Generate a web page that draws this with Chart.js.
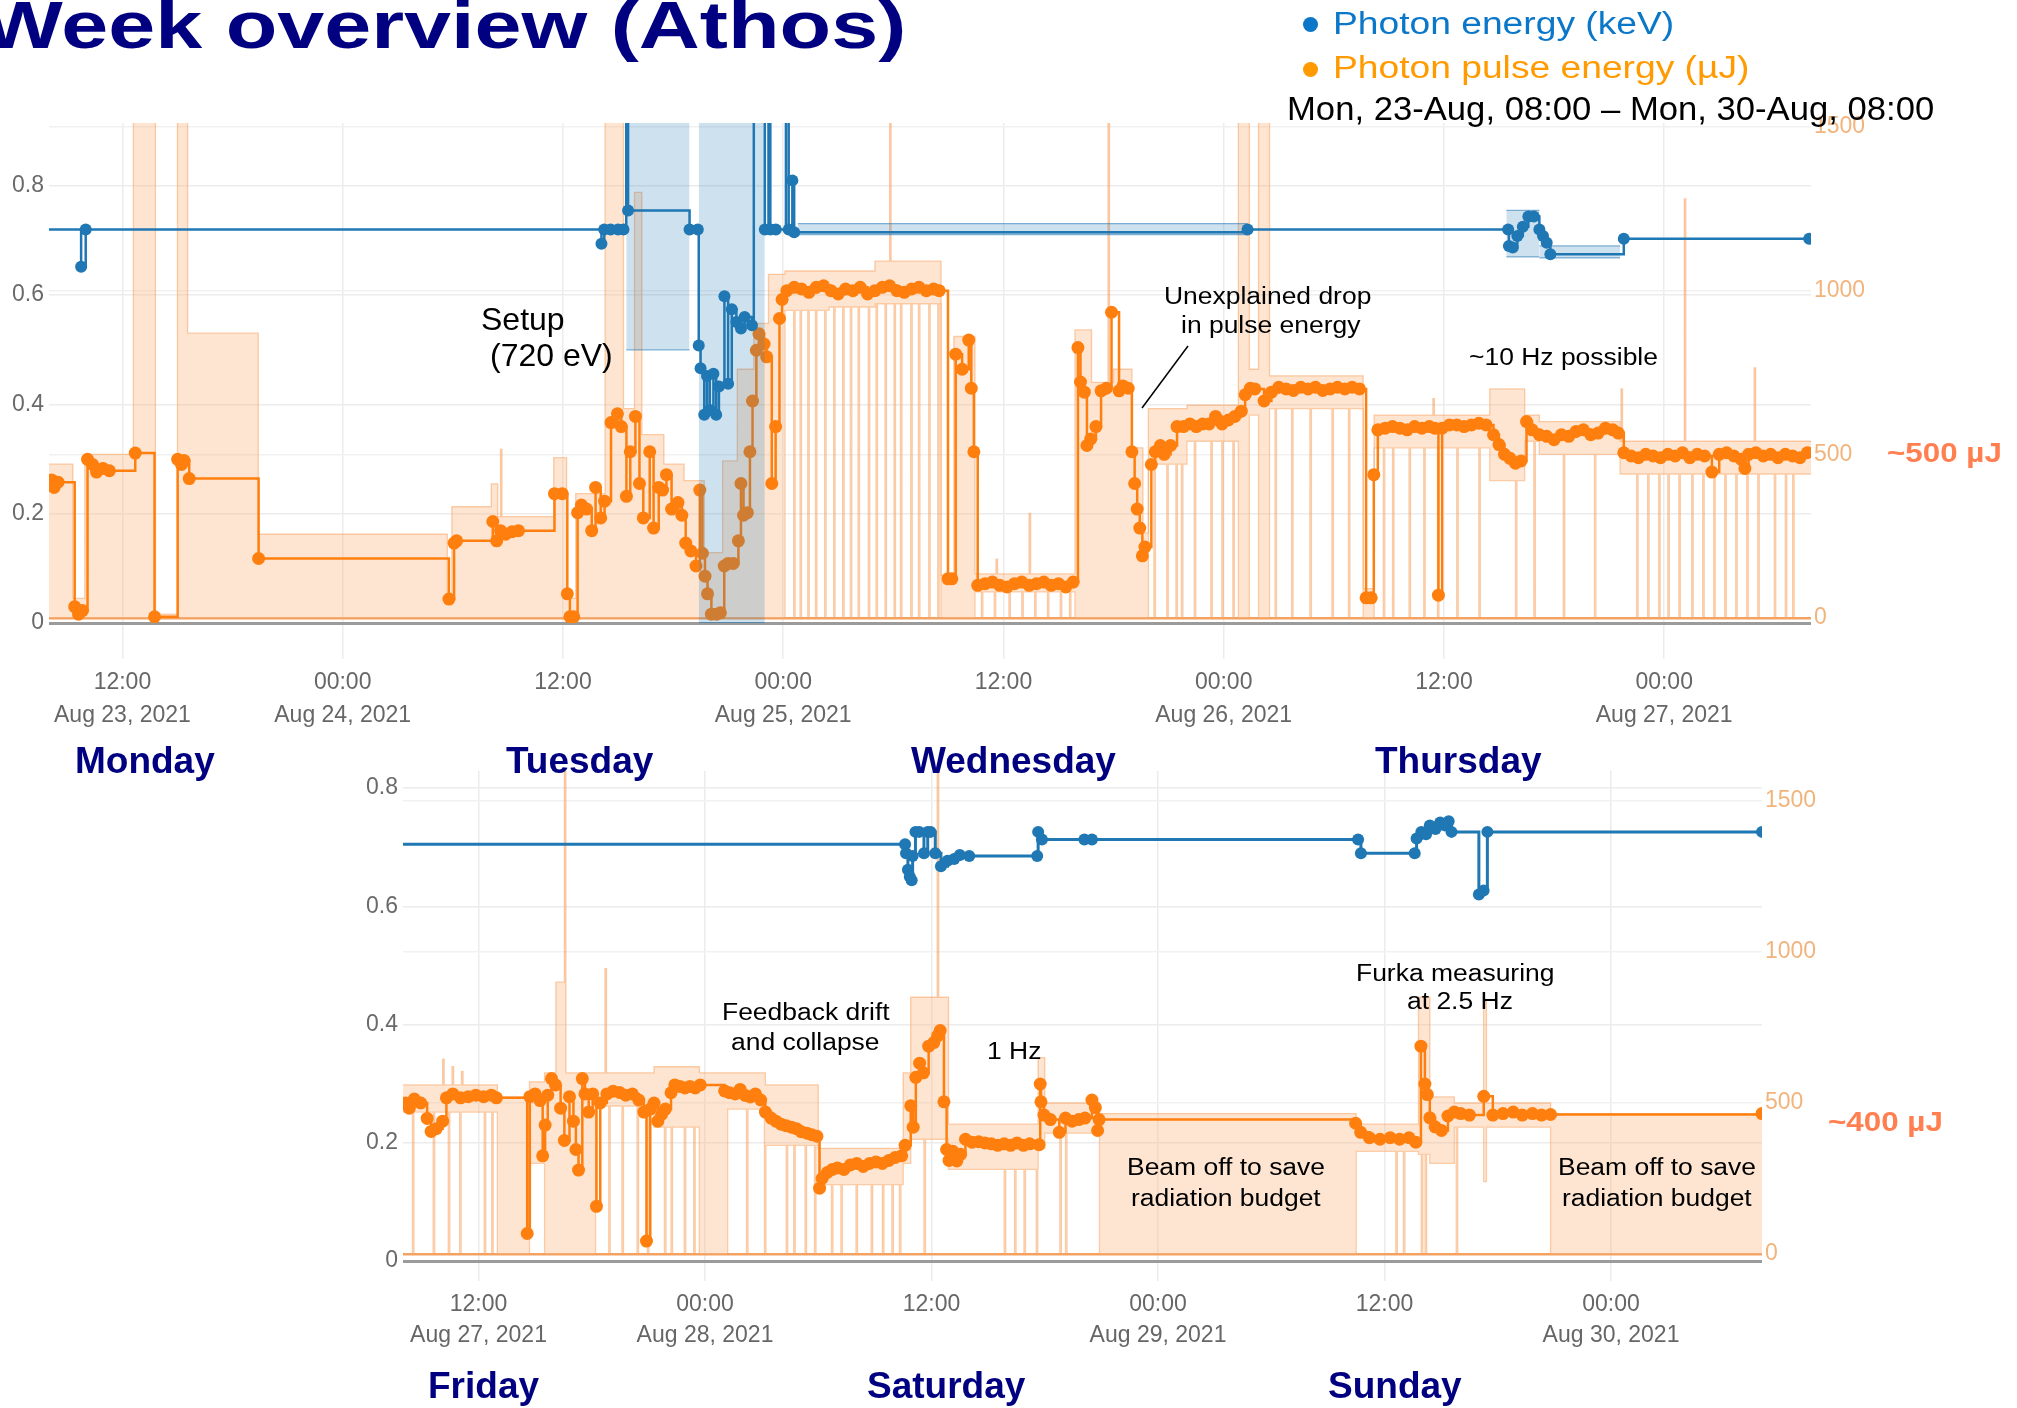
<!DOCTYPE html>
<html>
<head>
<meta charset="utf-8">
<script src="https://cdn.jsdelivr.net/npm/chart.js@4.4.1/dist/chart.umd.min.js"></script>
<style>
  body { margin: 0; width: 2017px; height: 1408px; background: #fff; position: relative; overflow: hidden;
         font-family: "Liberation Sans", Arial, Helvetica, sans-serif; }
  canvas { position: absolute; }
  .txt { position: absolute; white-space: nowrap; line-height: 1; transform-origin: 0 0; }
  .dot { position: absolute; border-radius: 50%; }
</style>
</head>
<body>
<canvas id="topChart" width="1900" height="640" style="left:0;top:100px;width:1900px;height:640px"></canvas>
<canvas id="bottomChart" width="1600" height="668" style="left:300px;top:740px;width:1600px;height:668px"></canvas>
<svg style="position:absolute;left:0;top:0" width="2017" height="1408">
  <line x1="1188" y1="346" x2="1142" y2="408" stroke="#000" stroke-width="1.5"/>
</svg>
<script>
// hours are counted from Mon 23-Aug 08:00

// ---- top chart (Mon 08:00 - Fri 08:00) ----
const topTickHours = [4, 16, 28, 40, 52, 64, 76, 88];
const topTickTimes = ['12:00', '00:00', '12:00', '00:00', '12:00', '00:00', '12:00', '00:00'];
const topTickDates = ['Aug 23, 2021', 'Aug 24, 2021', '', 'Aug 25, 2021', '', 'Aug 26, 2021', '', 'Aug 27, 2021'];

// photon energy (keV)
const topEnergyHours = [0, 1.75, 2.0, 30.1, 30.25, 30.6, 31.0, 31.3, 31.45, 31.55, 34.9, 35.35, 35.4, 35.5, 35.7,
  35.85, 36.0, 36.2, 36.35, 36.5, 36.8, 37.0, 37.2, 37.45, 37.7, 37.9, 38.3, 38.4, 39.0, 39.2,
  39.3, 39.6, 40.15, 40.3, 40.5, 40.6, 65.3, 79.5, 79.54, 79.75, 80.0, 80.3, 80.6, 80.9, 81.2,
  81.4, 81.6, 81.8, 85.8, 95.9];
const topEnergyValues = [0.72, 0.652, 0.72, 0.694, 0.72, 0.72, 0.72, 0.72, 0.95, 0.755, 0.72, 0.72, 0.508, 0.466, 0.381,
  0.452, 0.39, 0.456, 0.381, 0.433, 0.598, 0.438, 0.574, 0.551, 0.539, 0.56, 0.545, 0.95, 0.72, 0.95,
  0.72, 0.72, 0.95, 0.72, 0.81, 0.715, 0.72, 0.72, 0.69, 0.687, 0.708, 0.725, 0.744, 0.744, 0.72,
  0.708, 0.696, 0.675, 0.703, 0.703];
// photon energy min/max bands
const topEnergyBandStart = [31.45, 35.4, 40.8, 79.4, 81.2];
const topEnergyBandEnd = [34.9, 39.0, 65.3, 81.2, 85.6];
const topEnergyBandLow = [0.5, 0, 0.711, 0.67, 0.668];
const topEnergyBandHigh = [0.95, 0.95, 0.731, 0.755, 0.69];

// photon pulse energy (uJ)
const topPulseHours = [0.14, 0.28, 0.49, 1.40, 1.61, 1.82, 2.10, 2.38, 2.59, 2.94, 3.29, 4.70, 5.75, 7.01, 7.22, 7.36, 7.64,
  11.42, 21.79, 22.07, 22.21, 24.18, 24.39, 24.60, 24.88, 25.23, 25.58, 27.54, 27.96, 28.24, 28.38, 28.59,
  28.80, 29.01, 29.29, 29.57, 29.78, 30.06, 30.27, 30.62, 30.97, 31.18, 31.46, 31.67, 31.95, 32.17, 32.38,
  32.73, 32.94, 33.22, 33.43, 33.64, 33.92, 34.27, 34.48, 34.69, 34.97, 35.25, 35.46, 35.60, 35.74, 35.88,
  36.09, 36.37, 36.58, 36.79, 37.00, 37.28, 37.56, 37.70, 37.84, 38.05, 38.19, 38.33, 38.54, 38.68, 38.96,
  39.10, 39.38, 39.59, 39.80, 39.94,
  40.2, 40.6, 41.0, 41.4, 41.8, 42.2, 42.6, 43.0, 43.4, 43.8, 44.2, 44.6, 45.0, 45.4, 45.8, 46.2, 46.6, 47.0,
  47.4, 47.8, 48.2, 48.5, 48.98, 49.19, 49.40, 49.75, 50.11, 50.25, 50.39,
  50.6, 51.0, 51.4, 51.8, 52.2, 52.6, 53.0, 53.4, 53.8, 54.2, 54.6, 55.0, 55.4, 55.8,
  56.06, 56.20, 56.41, 56.55, 56.76, 57.04, 57.32, 57.61, 57.89, 58.30, 58.51, 58.80, 59.00, 59.15, 59.29,
  59.43, 59.57, 59.71, 60.06, 60.27, 60.55, 60.76, 61.11, 61.46, 61.81, 62.16, 62.51, 62.86, 63.21, 63.56,
  63.91, 64.26, 64.61, 64.96, 65.17, 65.45,
  65.7, 66.2, 66.6, 67.0, 67.4, 67.8, 68.2, 68.6, 69.0, 69.4, 69.8, 70.2, 70.6, 71.0, 71.4, 71.76, 72.04, 72.18,
  72.4, 72.8, 73.2, 73.6, 74.0, 74.4, 74.8, 75.2, 75.5, 75.7, 75.9, 76.3, 76.7, 77.1, 77.5, 77.9, 78.3,
  78.7, 79.0, 79.3, 79.6, 79.9, 80.2, 80.5, 80.8,
  81.2, 81.6, 82.0, 82.4, 82.8, 83.2, 83.6, 84.0, 84.4, 84.8, 85.2, 85.5,
  85.8, 86.2, 86.6, 87.0, 87.4, 87.8, 88.2, 88.6, 89.0, 89.4, 89.8, 90.2, 90.6, 91.0, 91.4, 91.8, 92.2, 92.4,
  92.6, 93.0, 93.4, 93.8, 94.2, 94.6, 95.0, 95.4, 95.8];
const topPulseValues = [422, 399, 415, 35, 12, 23, 485, 469, 446, 457, 450, 504, 4, 485, 469, 481, 426,
  182, 58, 229, 236, 295, 236, 267, 256, 264, 267, 380, 380, 74, 4, 4,
  322, 345, 333, 267, 399, 306, 357, 597, 624, 585, 372, 508, 616, 411, 306,
  508, 275, 399, 391, 438, 333, 353, 314, 229, 205, 159, 391, 198, 128, 74,
  12, 12, 16, 159, 167, 167, 236, 411, 314, 322, 508, 663, 818, 868, 837,
  798, 411, 585, 915, 973,
  1000, 1010, 1005, 995, 1010, 1015, 1000, 990, 1005, 1000, 1010, 990, 1000, 1010, 1015, 1000, 995, 1005,
  1010, 1000, 1005, 1000, 120, 120, 806, 760, 849, 702, 508,
  100, 105, 110, 100, 95, 105, 110, 100, 105, 110, 100, 105, 95, 110,
  826, 721, 690, 527, 547, 585, 694, 702, 934, 694, 709, 702, 508, 411, 333,
  275, 190, 217, 469, 508, 527, 500, 527, 585, 585, 593, 585, 593, 593, 616,
  593, 605, 616, 632, 682, 702,
  700, 663, 690, 705, 700, 695, 705, 700, 705, 695, 700, 705, 700, 705, 700, 62, 62, 438,
  575, 580, 585, 580, 575, 585, 580, 585, 580, 70, 580, 590, 590, 585, 590, 595, 590,
  560, 530, 500, 488, 473, 480, 600, 575,
  560, 555, 545, 560, 555, 570, 575, 560, 565, 580, 575, 565,
  505, 495, 490, 500, 495, 490, 500, 495, 505, 490, 500, 495, 446, 500, 505, 495, 485, 457,
  500, 505, 495, 500, 490, 500, 495, 490, 505];
// pulse energy min/max envelope (value holds until the next hour)
const topBandHours = [0, 1.3, 1.95, 4.6, 5.8, 7.0, 7.55, 11.4, 21.7, 21.95, 24.1, 24.45, 27.5, 28.2, 28.7,
  30.3, 31.3, 31.9, 32.3, 33.5, 34.6, 35.7, 36.7, 37.5, 38.4, 39.2, 40.1, 42.5, 45.0, 48.6,
  49.3, 50.45, 55.9, 56.8, 58.0, 59.0, 59.6, 59.9, 62.0, 64.8, 65.4, 65.9, 66.5, 71.6, 72.2,
  78.5, 80.4, 81.2, 85.6];
const topBandLow = [0, 0, 0, 0, 0, 0, 0, 0, 0, 0, 0, 0, 0, 0, 0,
  0, 0, 0, 0, 0, 0, 0, 0, 0, 0, 0, 940, 950, 960, 0,
  0, 80, 0, 0, 0, 0, 0, 470, 540, 0, 620, 0, 640, 0, 520,
  420, 540, 500, 440];
const topBandHigh = [470, 60, 500, 1600, 12, 1600, 870, 256, 70, 340, 410, 310, 490, 60, 380,
  1600, 640, 1300, 560, 470, 420, 200, 480, 760, 900, 1050, 1060, 1060, 1090, 130,
  860, 135, 880, 720, 760, 520, 260, 640, 650, 1600, 760, 1600, 740, 90, 620,
  700, 620, 600, 540];
const topDipHours = [40.57, 40.92, 41.34, 41.76, 42.26, 42.75, 43.24, 43.66, 44.08, 44.64, 45.06, 45.55, 46.04,
  46.39, 46.95, 47.37, 47.93, 48.42, 50.8, 51.5, 52.3, 53.0, 53.7, 54.4, 55.1, 55.6, 60.2, 60.9, 61.4,
  61.7, 62.4, 63.3, 63.9, 64.5, 66.8, 67.7, 68.7, 69.9, 70.8, 72.7, 73.2, 74.1, 74.9, 75.65, 76.7, 77.9,
  79.9, 80.9, 82.5, 84.2, 86.5, 87.1, 87.7, 88.2, 88.8, 89.5, 90.1, 90.7, 91.3, 91.9, 92.5, 93.1, 94.0,
  94.6, 95.0];
const topSpikeHours = [24.6, 45.8, 51.6, 53.4, 57.7, 75.4, 85.65, 89.1, 92.9];
const topSpikeValues = [515, 1600, 180, 320, 1600, 670, 700, 1280, 764];

// ---- bottom chart (Fri 08:00 - Mon 08:00) ----
const botTickHours = [100, 112, 124, 136, 148, 160];
const botTickTimes = ['12:00', '00:00', '12:00', '00:00', '12:00', '00:00'];
const botTickDates = ['Aug 27, 2021', 'Aug 28, 2021', '', 'Aug 29, 2021', '', 'Aug 30, 2021'];

const botEnergyHours = [96.0, 122.6, 122.65, 122.75, 122.85, 122.95, 123.0, 123.15, 123.35, 123.6,
  123.8, 123.95, 124.2, 124.5, 124.85, 125.2, 125.5, 126.0, 129.6, 129.65,
  129.85, 132.1, 132.5, 146.6, 146.75, 149.6, 149.7, 149.95, 150.2, 150.4,
  150.7, 150.95, 151.2, 151.4, 151.55, 153.0, 153.25, 153.45, 168.0];
const botEnergyValues = [0.705, 0.705, 0.69, 0.662, 0.65, 0.644, 0.685, 0.726, 0.726, 0.69,
  0.726, 0.726, 0.69, 0.668, 0.677, 0.68, 0.687, 0.685, 0.685, 0.726,
  0.713, 0.713, 0.713, 0.713, 0.69, 0.69, 0.715, 0.726, 0.722, 0.737,
  0.731, 0.742, 0.737, 0.744, 0.726, 0.62, 0.627, 0.726, 0.726];

const botPulseHours = [96.13, 96.33, 96.6, 96.94, 97.28, 97.49, 97.76, 98.1, 98.3, 98.64, 99.05, 99.46, 99.86,
  100.27, 100.68, 100.95, 102.58, 102.72, 103.0, 103.26, 103.4, 103.53, 103.67, 103.87, 104.08, 104.35,
  104.55, 104.82, 105.03, 105.16, 105.3, 105.5, 105.64, 105.84, 106.05, 106.25, 106.45, 106.8, 107.13,
  107.47, 107.8, 108.15, 108.49, 108.76, 108.9, 109.1, 109.3, 109.5, 109.7, 109.9, 110.2, 110.4, 110.67,
  110.94, 111.2, 111.48, 111.75, 113.04, 113.3, 113.6, 113.86, 114.13, 114.4, 114.67, 114.95, 115.2,
  115.5, 115.76, 116.03, 116.3, 116.58, 116.85, 117.1, 117.4, 117.66, 117.93, 118.07, 118.2, 118.48,
  118.75, 119.02, 119.36, 119.7, 120.04, 120.38, 120.72, 121.06, 121.4, 121.74, 122.08, 122.42, 122.6,
  122.9, 123.03, 123.17, 123.37, 123.57, 123.85, 124.12, 124.32, 124.46, 124.66, 124.8, 124.93, 125.13,
  125.34, 125.54, 125.8, 126.15, 126.5, 126.83, 127.17, 127.51, 127.85, 128.19, 128.53, 128.87, 129.2,
  129.7, 129.76, 129.8, 129.96, 130.3, 130.77, 131.1, 131.45, 131.8, 132.13, 132.5, 132.68, 132.8, 132.88,
  146.47, 146.74, 147.2, 147.76, 148.3, 148.8, 149.3, 149.66, 149.93, 150.14, 150.27, 150.4, 150.68,
  151.02, 151.36, 151.7, 152.04, 152.5, 153.26, 153.74, 154.28, 154.82, 155.3, 155.84, 156.32, 156.8, 168.0];
const botPulseValues = [500, 483, 513, 500, 449, 406, 415, 440, 517, 530, 517, 521, 526,
  521, 526, 517, 68, 521, 530, 508, 325, 427, 526, 581, 560, 483,
  376, 521, 440, 346, 278, 581, 530, 470, 530, 158, 500, 530, 539,
  535, 526, 530, 510, 470, 43, 480, 500, 440, 462, 480, 534, 560, 555,
  550, 555, 550, 560, 540, 534, 530, 545, 525, 520, 530, 510, 470,
  450, 440, 430, 425, 420, 415, 405, 400, 395, 390, 218, 250, 270,
  280, 285, 280, 295, 300, 290, 300, 305, 300, 310, 320, 325, 360,
  491, 420, 585, 632, 600, 688, 700, 722, 740, 504, 346, 310, 340,
  308, 330, 380, 370, 372, 368, 365, 360, 365, 360, 368, 360, 365,
  362, 563, 504, 460, 445, 403, 450, 440, 445, 450, 510, 485, 409, 445,
  433, 403, 385, 380, 385, 380, 385, 370, 688, 563, 528, 451, 421,
  409, 457, 470, 465, 460, 522, 460, 465, 470, 460, 465, 460, 462, 465];
const botBandHours = [96.0, 101.0, 102.55, 102.7, 103.5, 104.1, 104.6, 106.2, 109.3, 111.7, 113.2, 115.2, 118.0,
  122.5, 122.9, 124.9, 129.65, 130.0, 132.9, 146.5, 149.8, 150.4, 151.7, 153.25, 153.4, 156.8];
const botBandLow = [470, 0, 0, 300, 0, 0, 0, 490, 420, 0, 480, 360, 230,
  300, 380, 280, 350, 400, 0, 340, 330, 300, 420, 240, 420, 0];
const botBandHigh = [560, 520, 100, 570, 600, 900, 600, 600, 620, 600, 600, 560, 350,
  600, 850, 430, 650, 500, 465, 430, 850, 520, 500, 840, 500, 465];
const botDipHours = [96.5, 97.6, 98.4, 99.0, 100.3, 100.7, 106.9, 107.6, 108.4, 108.95, 109.85, 110.2, 110.9,
  111.4, 114.2, 115.15, 116.3, 116.7, 117.3, 117.8, 118.7, 119.2, 120.0, 120.8, 121.4, 121.9, 122.3,
  123.6, 127.85, 128.4, 128.9, 129.55, 130.8, 131.1, 148.6, 149.0, 149.95, 150.15, 151.8];
const botSpikeHours = [98.1, 98.6, 99.1, 104.55, 106.7, 124.3];
const botSpikeValues = [645, 620, 605, 1700, 945, 1700];

const leftTicks = [0, 0.2, 0.4, 0.6, 0.8];
const rightTicks = [0, 500, 1000, 1500];

// ---------------------------------------------------------------
const FONT = '"Liberation Sans", Arial, Helvetica, sans-serif';
const BLUE = '#1f77b4';
const ORANGE = '#ff7f0e';
const HOLD = 0.08; // width (hours) of a single dip / spike sample

Chart.defaults.font.family = FONT;

function toPoints(hours, values) {
  return hours.map((h, i) => ({ x: h, y: values[i] }));
}

function buildBand(hours, low, high, dips, spikeHours, spikeValues, endHour) {
  const key = t => Math.round(t * 1000) / 1000;
  const times = new Set(hours.map(key));
  dips.concat(spikeHours).forEach(t => { times.add(key(t)); times.add(key(t + HOLD)); });
  times.add(key(endHour));
  const sorted = Array.from(times).sort((a, b) => a - b);
  const lo = [], hi = [];
  sorted.forEach(t => {
    let i = 0;
    while (i + 1 < hours.length && hours[i + 1] <= t + 1e-9) i++;
    let l = low[i], h = high[i];
    dips.forEach(d => { if (t >= d - 1e-9 && t < d + HOLD - 1e-6) l = 0; });
    spikeHours.forEach((s, k) => { if (t >= s - 1e-9 && t < s + HOLD - 1e-6) h = Math.max(h, spikeValues[k]); });
    lo.push({ x: t, y: l });
    hi.push({ x: t, y: h });
  });
  return { lo, hi };
}

function lineSet(points, axis, color, width, radius, order, maxVal, skipFirst) {
  return {
    data: points, yAxisID: axis, stepped: true, fill: false, order: order,
    borderColor: color, borderWidth: width,
    pointBackgroundColor: color, pointBorderWidth: 0,
    pointRadius: ctx => (ctx.raw && ctx.raw.y <= maxVal && !(skipFirst && ctx.dataIndex === 0)) ? radius : 0
  };
}

function bandPair(hi, lo, axis, line, fillColor, order) {
  return [
    { data: hi, yAxisID: axis, stepped: true, fill: '+1', backgroundColor: fillColor,
      borderColor: line, borderWidth: 1.3, pointRadius: 0, order: order },
    { data: lo, yAxisID: axis, stepped: true, fill: false,
      borderColor: line, borderWidth: 1.3, pointRadius: 0, order: order }
  ];
}

function makeChart(id, g) {
  const band = buildBand(g.bandHours, g.bandLow, g.bandHigh, g.dips, g.spikeHours, g.spikeValues, g.xmax);
  const sets = [];
  sets.push(lineSet(toPoints(g.energyHours, g.energyValues), 'yL', BLUE, g.blueWidth, 6, 1, g.lmax, true));
  g.energyBandStart.forEach((s, i) => {
    const e = g.energyBandEnd[i];
    sets.push(...bandPair(
      [{ x: s, y: g.energyBandHigh[i] }, { x: e, y: g.energyBandHigh[i] }],
      [{ x: s, y: g.energyBandLow[i] }, { x: e, y: g.energyBandLow[i] }],
      'yL', 'rgba(31,119,180,0.55)', 'rgba(31,119,180,0.22)', 2));
  });
  sets.push(lineSet(toPoints(g.pulseHours, g.pulseValues), 'yR', ORANGE, 2.5, 6.5, 3, g.rmax, false));
  sets.push(...bandPair(band.hi, band.lo, 'yR', 'rgba(248,158,88,0.5)', 'rgba(253,190,140,0.4)', 4));

  const tickFont = { family: FONT, size: 23 };
  return new Chart(document.getElementById(id), {
    type: 'line',
    data: { datasets: sets },
    options: {
      responsive: false, animation: false, devicePixelRatio: 1,
      layout: { padding: { top: g.padTop, left: 0, right: 0, bottom: 0 } },
      plugins: { legend: { display: false }, tooltip: { enabled: false } },
      scales: {
        x: {
          type: 'linear', min: g.xmin, max: g.xmax,
          afterBuildTicks: ax => { ax.ticks = g.tickHours.map(v => ({ value: v })); },
          afterFit: s => { s.height = g.xHeight; },
          border: { display: false },
          grid: { color: '#ececec', lineWidth: 1.5, tickLength: g.tickLength },
          ticks: {
            autoSkip: false, maxRotation: 0, padding: 8, color: '#666',
            font: { family: FONT, size: 23, lineHeight: g.lineHeight },
            callback: (v, i) => g.tickDates[i] ? [g.tickTimes[i], g.tickDates[i]] : g.tickTimes[i]
          }
        },
        yL: {
          position: 'left', min: 0, max: g.lmax,
          afterBuildTicks: ax => { ax.ticks = leftTicks.map(v => ({ value: v })); },
          afterFit: s => { s.width = g.leftWidth; },
          border: { display: false },
          grid: {
            drawTicks: false,
            color: c => c.tick && c.tick.value === 0 ? '#9b9b9b' : '#ececec',
            lineWidth: c => c.tick && c.tick.value === 0 ? 3 : 1.5
          },
          ticks: { padding: 5, color: '#6a6a6a', font: tickFont, callback: v => String(+v.toFixed(1)) }
        },
        yR: {
          position: 'right', min: g.rmin, max: g.rmax,
          afterBuildTicks: ax => { ax.ticks = rightTicks.map(v => ({ value: v })); },
          afterFit: s => { s.width = g.rightWidth; },
          border: { display: false },
          grid: {
            drawTicks: false,
            color: c => c.tick && c.tick.value === 0 ? '#f3a262' : '#f1f1f1',
            lineWidth: c => c.tick && c.tick.value === 0 ? 2.5 : 1.5
          },
          ticks: { padding: 3, color: '#f0b47c', font: tickFont, callback: v => String(v) }
        }
      }
    }
  });
}

makeChart('topChart', {
  xmin: 0, xmax: 96, lmax: 0.915, rmin: -15, rmax: 1512,
  padTop: 23, leftWidth: 49, rightWidth: 89, xHeight: 117, tickLength: 36, lineHeight: 1.4, blueWidth: 2.5,
  tickHours: topTickHours, tickTimes: topTickTimes, tickDates: topTickDates,
  energyHours: topEnergyHours, energyValues: topEnergyValues,
  energyBandStart: topEnergyBandStart, energyBandEnd: topEnergyBandEnd,
  energyBandLow: topEnergyBandLow, energyBandHigh: topEnergyBandHigh,
  pulseHours: topPulseHours, pulseValues: topPulseValues,
  bandHours: topBandHours, bandLow: topBandLow, bandHigh: topBandHigh,
  dips: topDipHours, spikeHours: topSpikeHours, spikeValues: topSpikeValues
});

makeChart('bottomChart', {
  xmin: 96, xmax: 168, lmax: 0.829, rmin: -23, rmax: 1599,
  padTop: 31, leftWidth: 103, rightWidth: 138, xHeight: 147, tickLength: 20, lineHeight: 1.35, blueWidth: 3,
  tickHours: botTickHours, tickTimes: botTickTimes, tickDates: botTickDates,
  energyHours: botEnergyHours, energyValues: botEnergyValues,
  energyBandStart: [], energyBandEnd: [], energyBandLow: [], energyBandHigh: [],
  pulseHours: botPulseHours, pulseValues: botPulseValues,
  bandHours: botBandHours, bandLow: botBandLow, bandHigh: botBandHigh,
  dips: botDipHours, spikeHours: botSpikeHours, spikeValues: botSpikeValues
});

// ---- slide texts ----
function addText(str, left, baseline, size, color, bold, scale) {
  const d = document.createElement('div');
  d.className = 'txt';
  d.textContent = str;
  d.style.left = left + 'px';
  d.style.top = (baseline - 0.8465 * size) + 'px';
  d.style.fontSize = size + 'px';
  d.style.color = color;
  if (bold) d.style.fontWeight = 'bold';
  if (scale && scale !== 1) d.style.transform = 'scaleX(' + scale + ')';
  document.body.appendChild(d);
}
function addDot(cx, cy, r, color) {
  const d = document.createElement('div');
  d.className = 'dot';
  d.style.left = (cx - r) + 'px';
  d.style.top = (cy - r) + 'px';
  d.style.width = d.style.height = (2 * r) + 'px';
  d.style.background = color;
  document.body.appendChild(d);
}

const NAVY = '#000080';
addText('Week overview (Athos)', -17, 48, 66, NAVY, true, 1.28);
addDot(1310, 24, 7.5, '#0b77c9');
addText('Photon energy (keV)', 1333, 34, 31, '#0b77c9', false, 1.2);
addDot(1310, 69, 7.5, '#ff9a00');
addText('Photon pulse energy (µJ)', 1333, 78, 31, '#ff9a00', false, 1.2);
addText('Mon, 23-Aug, 08:00 – Mon, 30-Aug, 08:00', 1287, 120, 33, '#000', false, 1.05);

addText('Setup', 481, 330, 32, '#000', false, 1);
addText('(720 eV)', 490, 366, 32, '#000', false, 1);
addText('Unexplained drop', 1164, 304, 23, '#000', false, 1.15);
addText('in pulse energy', 1181, 333, 23, '#000', false, 1.15);
addText('~10 Hz possible', 1469, 365, 23, '#000', false, 1.15);
addText('~500 µJ', 1887, 463, 28, '#ff7f50', true, 1.12);

addText('Monday', 75, 773, 37, NAVY, true, 1);
addText('Tuesday', 506, 773, 37, NAVY, true, 1);
addText('Wednesday', 911, 773, 37, NAVY, true, 1);
addText('Thursday', 1375, 773, 37, NAVY, true, 1);

addText('Feedback drift', 722, 1020, 23, '#000', false, 1.15);
addText('and collapse', 731, 1050, 23, '#000', false, 1.15);
addText('1 Hz', 987, 1059, 23, '#000', false, 1.15);
addText('Beam off to save', 1127, 1175, 23, '#000', false, 1.15);
addText('radiation budget', 1131, 1206, 23, '#000', false, 1.15);
addText('Furka measuring', 1356, 981, 23, '#000', false, 1.15);
addText('at 2.5 Hz', 1407, 1009, 23, '#000', false, 1.15);
addText('Beam off to save', 1558, 1175, 23, '#000', false, 1.15);
addText('radiation budget', 1562, 1206, 23, '#000', false, 1.15);
addText('~400 µJ', 1828, 1132, 28, '#ff7f50', true, 1.12);

addText('Friday', 428, 1398, 37, NAVY, true, 1);
addText('Saturday', 867, 1398, 37, NAVY, true, 1);
addText('Sunday', 1328, 1398, 37, NAVY, true, 1);
</script>
</body>
</html>
